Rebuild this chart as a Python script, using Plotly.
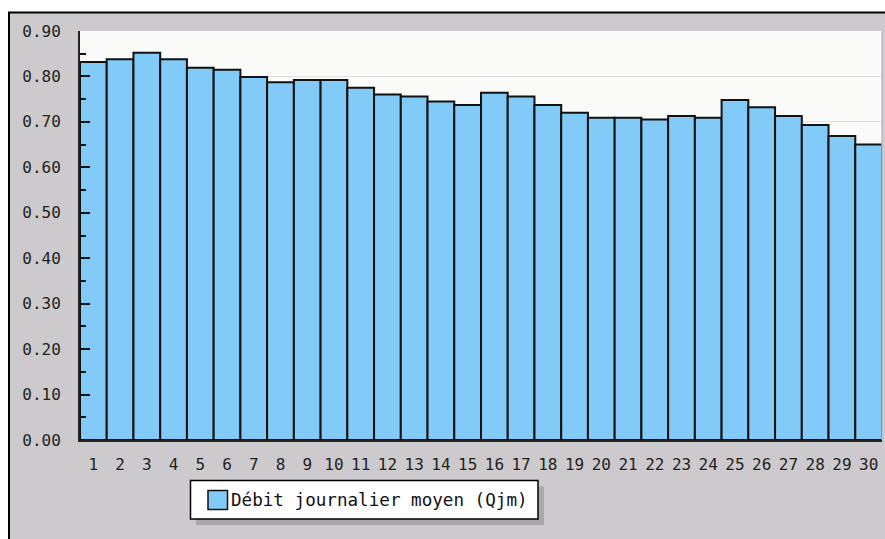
import plotly.graph_objects as go

days = list(range(1, 31))
qjm = [0.832, 0.838, 0.852, 0.838, 0.819, 0.815, 0.799, 0.787, 0.792, 0.792,
       0.775, 0.760, 0.756, 0.745, 0.737, 0.764, 0.756, 0.737, 0.720, 0.709,
       0.709, 0.705, 0.713, 0.709, 0.748, 0.732, 0.713, 0.693, 0.669, 0.650]
series_name = "Débit journalier moyen (Qjm)"
y_ticks = [0.0, 0.1, 0.2, 0.3, 0.4, 0.5, 0.6, 0.7, 0.8, 0.9]

W, H = 885, 539
# plot area in page pixels
L, R, T, B = 80, 882, 31, 440.5

def px(x):  # page x pixel -> paper
    return (x - L) / (R - L)

def py(y):  # page y pixel -> paper
    return (B - y) / (B - T)

GRAY = "#CCCACD"
BLUE = "#82CBF9"
FONT = "DejaVu Sans Mono"

fig = go.Figure()
fig.add_trace(go.Bar(
    x=days, y=qjm, name=series_name,
    marker=dict(color=BLUE, line=dict(color="#111111", width=2)),
    showlegend=False, hoverinfo="skip",
))

shapes = [
    # white strips outside the frame
    dict(type="rect", xref="paper", yref="paper", x0=px(-5), x1=px(900), y0=py(-5), y1=py(12),
         fillcolor="white", line=dict(width=0), layer="above"),
    dict(type="rect", xref="paper", yref="paper", x0=px(-5), x1=px(8), y0=py(-5), y1=py(560),
         fillcolor="white", line=dict(width=0), layer="above"),
    # frame lines
    dict(type="line", xref="paper", yref="paper", x0=px(8), x1=px(900), y0=py(12.5), y1=py(12.5),
         line=dict(color="black", width=2), layer="above"),
    dict(type="line", xref="paper", yref="paper", x0=px(9), x1=px(9), y0=py(12), y1=py(560),
         line=dict(color="black", width=2), layer="above"),
    # light right edge of the plot area
    dict(type="line", xref="paper", yref="paper", x0=1, x1=1, y0=0, y1=1,
         line=dict(color="#BDBBBE", width=1.5), layer="above"),
    # legend shadow
    dict(type="rect", xref="paper", yref="paper", x0=px(196), x1=px(544), y0=py(487), y1=py(525.5),
         fillcolor="#A9A7AA", line=dict(width=0), layer="above"),
    # legend box
    dict(type="rect", xref="paper", yref="paper", x0=px(190.5), x1=px(538), y0=py(481), y1=py(519.5),
         fillcolor="white", line=dict(color="black", width=1.5), layer="above"),
    # legend swatch
    dict(type="rect", xref="paper", yref="paper", x0=px(208), x1=px(227.5), y0=py(491), y1=py(510),
         fillcolor=BLUE, line=dict(color="#111111", width=1.5), layer="above"),
]

annotations = [
    dict(xref="paper", yref="paper", x=px(229), y=py(500.5), xanchor="left", yanchor="middle",
         text=series_name, showarrow=False,
         font=dict(family=FONT, size=17.6, color="#111111")),
]

fig.update_layout(
    width=W, height=H,
    margin=dict(l=L, r=W - R, t=T, b=H - B, pad=0),
    paper_bgcolor=GRAY,
    plot_bgcolor="#FAFBF9",
    bargap=0,
    font=dict(family=FONT, size=16, color="#222222"),
    shapes=shapes,
    annotations=annotations,
    showlegend=False,
    xaxis=dict(
        range=[0.5, 30.5], tickmode="array", tickvals=days,
        ticktext=[str(d) for d in days], ticks="", showgrid=False,
        showline=True, linecolor="#222222", linewidth=2,
        tickfont=dict(family=FONT, size=16, color="#222222"),
        ticklabelstandoff=9, fixedrange=True,
    ),
    yaxis=dict(
        range=[0, 0.9], tickmode="array", tickvals=y_ticks,
        ticktext=[f"{v:.2f}" for v in y_ticks],
        ticks="inside", ticklen=10, tickwidth=2, tickcolor="#111111",
        minor=dict(ticks="inside", ticklen=6, tickwidth=2, tickcolor="#111111", dtick=0.05,
                   showgrid=False),
        showgrid=True, gridcolor="#E0E0E0", gridwidth=1,
        showline=True, linecolor="#222222", linewidth=2,
        tickfont=dict(family=FONT, size=16, color="#222222"),
        ticklabelstandoff=14, zeroline=False, fixedrange=True,
    ),
)

fig.write_html(
    "out.html",
    config={"displayModeBar": False, "staticPlot": True},
    post_script="document.body.style.margin='0';document.body.style.overflow='hidden';",
)
